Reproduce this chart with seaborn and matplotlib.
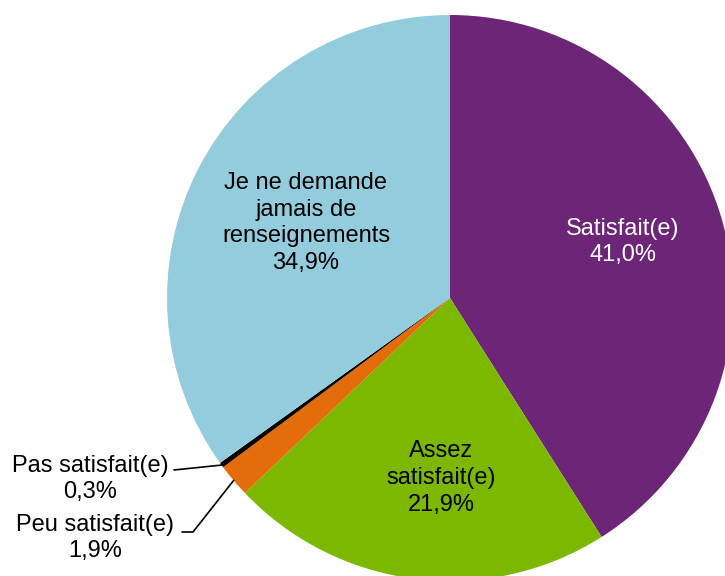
import matplotlib
matplotlib.use("Agg")
import matplotlib.pyplot as plt
import seaborn as sns
import numpy as np

# data
categories = ["Satisfait(e)", "Assez\nsatisfait(e)", "Peu satisfait(e)",
              "Pas satisfait(e)", "Je ne demande\njamais de\nrenseignements"]
values = [41.0, 21.9, 1.9, 0.3, 34.9]
colors = ["#6C2577", "#7DB800", "#E46C0A", "#000000", "#93CDDD"]

sns.set_theme(style="white")
plt.rcParams['font.family'] = ['Liberation Sans', 'DejaVu Sans']

fig = plt.figure(figsize=(7.25, 5.76), dpi=100)
ax = fig.add_axes([0, 0, 1, 1])

cx, cy, r = 450, 576 - 298, 283
wedges, _ = ax.pie(values, colors=colors, startangle=90, counterclock=False,
                   center=(cx, cy), radius=r, frame=True,
                   wedgeprops=dict(linewidth=0))
ax.set_xlim(0, 725)
ax.set_ylim(0, 576)
ax.set_aspect("equal")
ax.axis("off")


def pct(v):
    return ("%.1f%%" % v).replace(".", ",")


def mid_point(w):
    a = np.deg2rad((w.theta1 + w.theta2) / 2)
    return cx + r * np.cos(a), cy + r * np.sin(a)


fs = 17
ls = 1.28
# inside labels
ax.text(623, 576 - 242, categories[0] + "\n" + pct(values[0]), color="white",
        ha="center", va="center", fontsize=fs, linespacing=ls)
ax.text(441, 576 - 478, categories[1] + "\n" + pct(values[1]), color="black",
        ha="center", va="center", fontsize=fs, linespacing=ls)
ax.text(306, 576 - 223, categories[4] + "\n" + pct(values[4]), color="black",
        ha="center", va="center", fontsize=fs, linespacing=ls)

# outside labels with leader lines
ax.text(90, 576 - 479, categories[3] + "\n" + pct(values[3]), color="black",
        ha="center", va="center", fontsize=fs, linespacing=ls)
px, py = mid_point(wedges[3])
ax.plot([174, px], [576 - 470, py], color="black", lw=1.2)

ax.text(95, 576 - 538, categories[2] + "\n" + pct(values[2]), color="black",
        ha="center", va="center", fontsize=fs, linespacing=ls)
px, py = mid_point(wedges[2])
ax.plot([182, 193, px], [576 - 532, 576 - 532, py], color="black", lw=1.2)

plt.savefig("out.png", dpi=100)
